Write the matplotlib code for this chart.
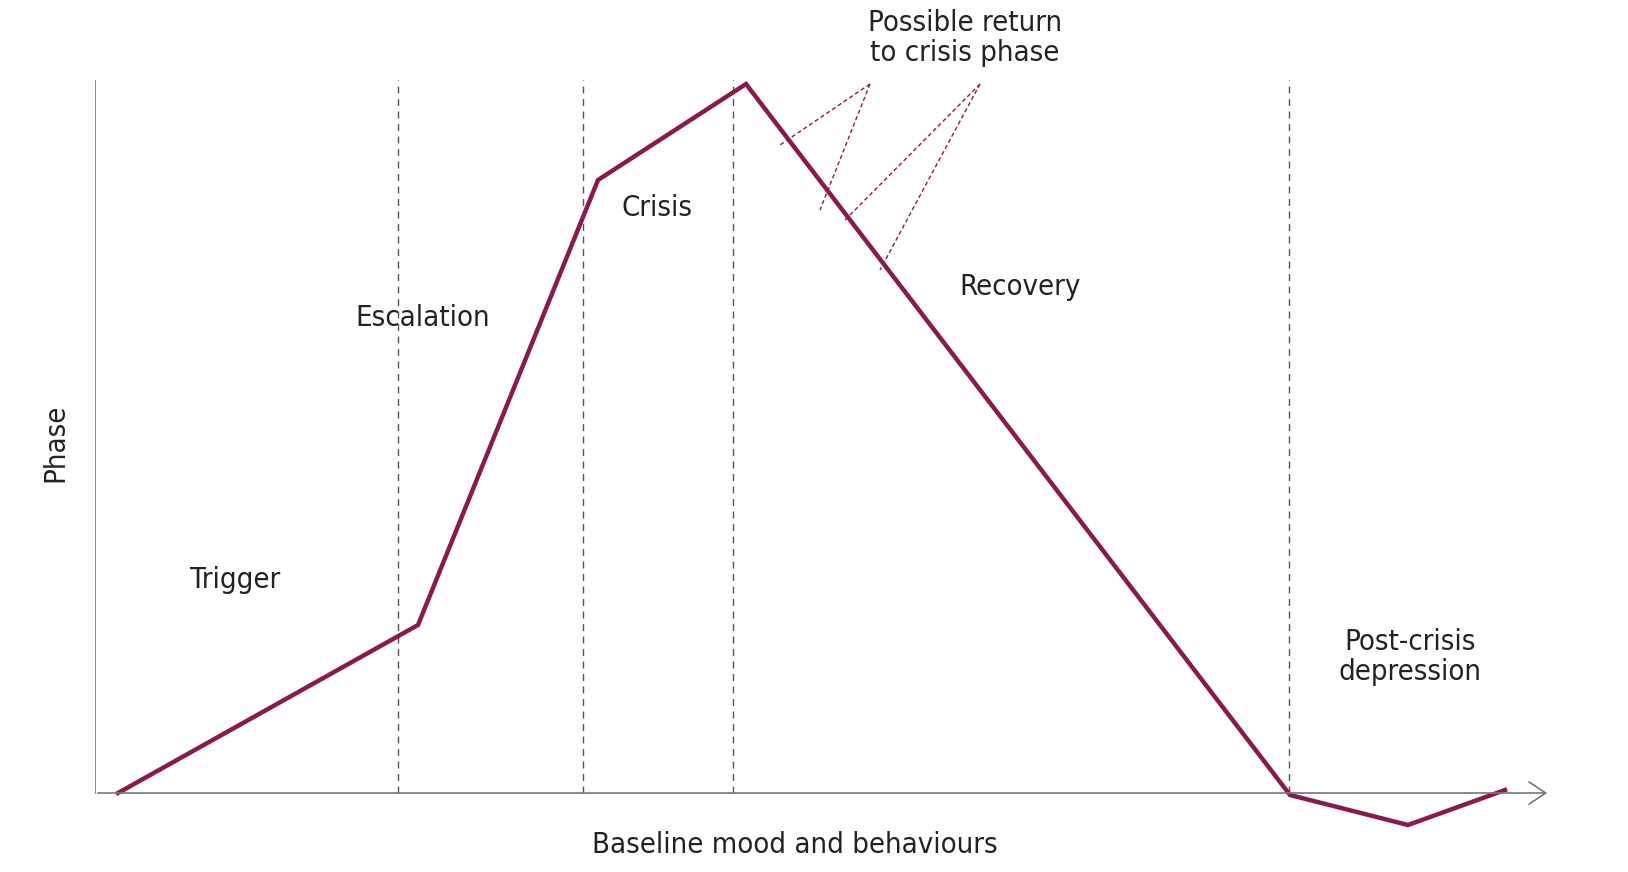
import matplotlib.pyplot as plt

# crisis curve (x = time, y = intensity)
curve_x = [23, 323, 503, 651, 1195, 1313, 1410]
curve_y = [0, 168, 613, 709, -2, -32, 3]

# phase boundaries
phase_bounds = [303, 488, 638, 1194]

# phase labels: (text, x, y)
phase_labels = [
    ("Trigger", 140, 213),
    ("Escalation", 328, 475),
    ("Crisis", 562, 585),
    ("Recovery", 925, 506),
    ("Post-crisis\ndepression", 1315, 136),
]

# dashed pointers from the "possible return" note to the recovery slope
note_x, note_y = 870, 755
pointers = [((775, 709), (685, 648)), ((775, 709), (725, 583)),
            ((885, 709), (750, 573)), ((885, 709), (785, 523))]

colour = "#8a1a4c"
font = ["DejaVu Sans"]
tkw = dict(family=font, fontstretch="condensed", fontsize=21, color="#222222")

fig = plt.figure(figsize=(16.28, 8.72), dpi=100)
ax = fig.add_axes([95 / 1628, 0, 1455 / 1628, 792 / 872])
ax.set_xlim(0, 1455)
ax.set_ylim(-79, 713)

for b in phase_bounds:
    ax.plot([b, b], [0, 713], color="#555555", ls=(0, (5, 4)), lw=1)

ax.plot(curve_x, curve_y, color=colour, lw=3.2, solid_joinstyle="miter", zorder=3)

for (x0, y0), (x1, y1) in pointers:
    ax.plot([x0, x1], [y0, y1], color=colour, ls=(0, (3, 2)), lw=1)

for text, x, y in phase_labels:
    ax.text(x, y, text, ha="center", va="center", linespacing=1.1, **tkw)

ax.text(note_x, note_y, "Possible return\nto crisis phase", ha="center", va="center",
        linespacing=1.1, clip_on=False, **tkw)

# axes
for s in ["top", "right", "left", "bottom"]:
    ax.spines[s].set_visible(False)
ax.plot([0, 0], [0, 713], color="#777777", lw=1.2)
ax.annotate("", xy=(1455, 0), xytext=(0, 0),
            arrowprops=dict(arrowstyle="->,head_length=1.2,head_width=0.8",
                            color="#777777", lw=1.2))
ax.set_xticks([])
ax.set_yticks([])
ax.text(-40, 350, "Phase", rotation=90, ha="center", va="center", clip_on=False, **tkw)
ax.text(700, -52, "Baseline mood and behaviours", ha="center", va="center",
        clip_on=False, **tkw)

fig.savefig("out.png", dpi=100)
